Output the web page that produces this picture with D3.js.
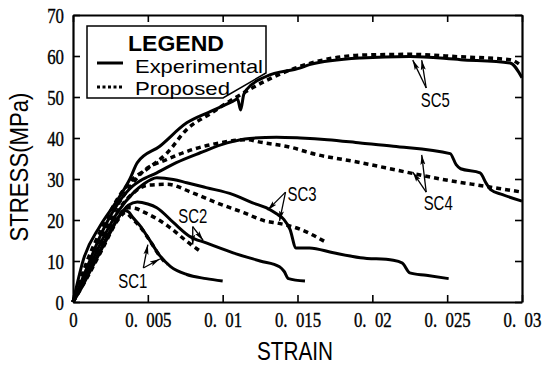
<!DOCTYPE html>
<html>
<head>
<meta charset="utf-8">
<script src="https://cdn.jsdelivr.net/npm/d3@7"></script>
<style>
  body { margin: 0; background: #fff; }
  svg { display: block; }
</style>
</head>
<body>
<script>
// strain / stress pairs
var sc1Exp = [[0,0],[0.0005,3],[0.001,6.5],[0.0015,10],[0.002,13.5],[0.0025,17],[0.003,20.3],[0.0034,22.3],[0.0037,22],[0.004,20.6],[0.0045,18.5],[0.0051,15.2],[0.0058,11.3],[0.0065,8.7],[0.0076,6.7],[0.0089,5.7],[0.01,5.1]];
var sc1Prop = [[0,0],[0.001,6.3],[0.002,13.2],[0.003,20],[0.0035,21.8],[0.004,20.2],[0.0046,17.8],[0.0052,14.6],[0.0058,11.2],[0.0063,9.2]];
var sc2Exp = [[0,0],[0.001,6.8],[0.002,14],[0.003,20.5],[0.0037,23.6],[0.0043,24.4],[0.005,23.9],[0.0056,23],[0.0067,19.4],[0.0078,16],[0.0089,14.4],[0.0107,12],[0.0125,10],[0.0138,8.6],[0.0141,7.5],[0.0144,5.7],[0.0155,5.1]];
var sc2Prop = [[0,0],[0.001,7],[0.002,14.3],[0.003,20.8],[0.0037,23],[0.0042,22.8],[0.0047,22],[0.0056,20.3],[0.0065,18.1],[0.0076,14.8],[0.0085,12.4]];
var sc3Exp = [[0,0],[0.001,7.8],[0.002,15.5],[0.003,22],[0.004,26.5],[0.0047,28.7],[0.0056,30.3],[0.0067,29.9],[0.0076,29.1],[0.0089,27.9],[0.0107,26.2],[0.012,24.2],[0.0129,23],[0.0136,21.5],[0.0141,20.1],[0.0145,17.7],[0.0149,13.2],[0.0158,13.2],[0.0174,12],[0.0192,10.8],[0.0214,10.2],[0.022,9.5],[0.0225,7.1],[0.0236,6.5],[0.0251,5.7]];
var sc3Prop = [[0,0],[0.001,8],[0.002,15.8],[0.003,22.3],[0.004,26.5],[0.005,28.5],[0.0063,28.7],[0.008,26.6],[0.0096,24.2],[0.0114,21.8],[0.0129,19.7],[0.0136,19.3],[0.0152,17.7],[0.0168,14.8]];
var sc4Exp = [[0,0],[0.001,9],[0.002,17.5],[0.003,24],[0.004,28.3],[0.0045,29.6],[0.0056,31.5],[0.0069,34],[0.0085,36.4],[0.0103,38.8],[0.0118,39.9],[0.0136,40.2],[0.0152,40],[0.017,39.6],[0.0192,38.8],[0.0214,38],[0.0252,36.2],[0.0256,33.5],[0.0259,32.5],[0.0272,31.5],[0.0276,29],[0.0279,27.4],[0.0287,26.2],[0.03,24.6]];
var sc4Prop = [[0,0],[0.001,9.2],[0.002,17.3],[0.003,23.8],[0.004,29],[0.0047,31.9],[0.0063,34.8],[0.008,37.2],[0.0098,38.8],[0.0116,39.6],[0.0125,39],[0.0147,37.6],[0.0158,36.4],[0.0192,34],[0.0225,31.5],[0.0247,29.9],[0.0276,28.2],[0.03,26.8]];
var sc5Exp = [[0,0],[0.0007,10.4],[0.0018,18.5],[0.0029,24.5],[0.0038,30],[0.0043,34],[0.0058,38],[0.0076,43.7],[0.0092,46.5],[0.0107,49],[0.011,49.5],[0.0112,46.8],[0.0114,50.5],[0.0116,51.8],[0.0129,55],[0.0152,57.1],[0.0158,57.9],[0.0192,59.5],[0.0225,59.9],[0.0259,59.1],[0.0292,58.3],[0.03,54.7]];
var sc5Prop = [[0,0],[0.001,10.5],[0.002,18.5],[0.003,25.3],[0.004,30],[0.0049,32.3],[0.0063,36.4],[0.0076,42.1],[0.0092,46],[0.0107,49.5],[0.0129,54],[0.0152,57.5],[0.0192,60.2],[0.0225,60.4],[0.0259,59.8],[0.0292,59.1],[0.03,57.5]];

var strainTicks = [0, 0.005, 0.01, 0.015, 0.02, 0.025, 0.03];
var strainTickLabels = ["0", "0.\u2002005", "0.\u200201", "0.\u2002015", "0.\u200202", "0.\u2002025", "0.\u200203"];
var stressTicks = [0, 10, 20, 30, 40, 50, 60, 70];

var curveNames = ["SC1", "SC2", "SC3", "SC4", "SC5"];
var expCurves = [sc1Exp, sc2Exp, sc3Exp, sc4Exp, sc5Exp];
var propCurves = [sc1Prop, sc2Prop, sc3Prop, sc4Prop, sc5Prop];

// label anchor (strain, stress) and arrow tips
var labelPos = [[0.0040, 3.4], [0.0080, 19.3], [0.0153, 24.6], [0.0244, 22.4], [0.0242, 47.6]];
var arrowFrom = [[0.0047, 8.3], [0.0080, 18.4], [0.0142, 26.8], [0.0236, 26.8], [0.0236, 52.2]];
var arrowTipsA = [[0.0050, 14.0], [0.0080, 14.0], [0.0130, 22.4], [0.0233, 35.9], [0.0227, 59.0]];
var arrowTipsB = [[0.0058, 10.5], [0.0087, 15.0], [0.0138, 19.8], [0.0227, 31.7], [0.0233, 59.0]];

var w = 544, h = 366;
var svg = d3.select("body").append("svg")
    .attr("width", w)
    .attr("height", h);

var x = d3.scaleLinear().domain([0, 0.03]).range([73, 522]);
var y = d3.scaleLinear().domain([0, 70]).range([302, 15]);

svg.append("defs").append("marker")
    .attr("id", "head")
    .attr("viewBox", "0 0 10 6")
    .attr("refX", 10).attr("refY", 3)
    .attr("markerWidth", 10).attr("markerHeight", 6)
    .attr("markerUnits", "userSpaceOnUse")
    .attr("orient", "auto")
    .append("path")
    .attr("d", "M0,0.5 L10,3 L0,5.5 L2,3 Z")
    .style("fill", "#000");

var line = d3.line()
    .curve(d3.curveMonotoneX)
    .x(function(d) { return x(d[0]); })
    .y(function(d) { return y(d[1]); });

// --- curves ---
svg.selectAll(".prop")
    .data(propCurves)
    .enter()
    .append("path")
    .attr("class", "prop")
    .attr("d", line)
    .style("fill", "none")
    .style("stroke", "#000")
    .style("stroke-width", 3.5)
    .style("stroke-dasharray", "5,4");

svg.selectAll(".exp")
    .data(expCurves)
    .enter()
    .append("path")
    .attr("class", "exp")
    .attr("d", line)
    .style("fill", "none")
    .style("stroke", "#000")
    .style("stroke-width", 3)
    .style("stroke-linejoin", "round");

// --- axes (inward ticks on all four sides) ---
var bottom = svg.append("g")
    .attr("transform", "translate(0," + y(0) + ")")
    .call(d3.axisBottom(x).tickValues(strainTicks)
        .tickFormat(function(d, i) { return strainTickLabels[i]; })
        .tickSizeInner(-7).tickSizeOuter(0).tickPadding(0));
bottom.selectAll("text")
    .attr("y", 25)
    .attr("dy", 0)
    .attr("x", 0)
    .attr("transform", "scale(0.8,1)");

var left = svg.append("g")
    .attr("transform", "translate(" + x(0) + ",0)")
    .call(d3.axisLeft(y).tickValues(stressTicks)
        .tickSizeInner(-7).tickSizeOuter(0).tickPadding(0));
left.selectAll("text")
    .attr("x", -9 / 0.8)
    .attr("dy", "0.36em")
    .attr("transform", "scale(0.8,1)");

svg.selectAll(".tick text")
    .style("font-family", "'Liberation Serif', serif")
    .style("font-size", "21px")
    .style("fill", "#000")
    .style("stroke", "#000")
    .style("stroke-width", 0.4);

svg.append("g")
    .attr("transform", "translate(0," + y(70) + ")")
    .call(d3.axisTop(x).tickValues(strainTicks).tickFormat("")
        .tickSizeInner(-7).tickSizeOuter(0));
svg.append("g")
    .attr("transform", "translate(" + x(0.03) + ",0)")
    .call(d3.axisRight(y).tickValues(stressTicks).tickFormat("")
        .tickSizeInner(-7).tickSizeOuter(0));

svg.selectAll(".domain").style("stroke-width", 2.2).style("stroke", "#000");
svg.selectAll(".tick line").style("stroke-width", 1.6).style("stroke", "#000");

// --- annotations ---
svg.selectAll(".sclabel")
    .data(curveNames)
    .enter()
    .append("text")
    .attr("class", "sclabel")
    .attr("x", function(d, i) { return x(labelPos[i][0]); })
    .attr("y", function(d, i) { return y(labelPos[i][1]); })
    .attr("text-anchor", "middle")
    .attr("textLength", 29)
    .attr("lengthAdjust", "spacingAndGlyphs")
    .style("font-family", "'Liberation Sans', Arial, sans-serif")
    .style("font-size", "21px")
    .text(function(d) { return d; });

[arrowTipsA, arrowTipsB].forEach(function(tips) {
    svg.selectAll(null)
        .data(tips)
        .enter()
        .append("line")
        .attr("x1", function(d, i) { return x(arrowFrom[i][0]); })
        .attr("y1", function(d, i) { return y(arrowFrom[i][1]); })
        .attr("x2", function(d) { return x(d[0]); })
        .attr("y2", function(d) { return y(d[1]); })
        .attr("marker-end", "url(#head)")
        .style("stroke", "#000")
        .style("stroke-width", 1.3);
});

// --- axis titles ---
svg.append("text")
    .attr("transform", "translate(28,167) rotate(-90)")
    .attr("text-anchor", "middle")
    .attr("textLength", 149)
    .attr("lengthAdjust", "spacingAndGlyphs")
    .style("font-family", "'Liberation Sans', Arial, sans-serif")
    .style("font-size", "25px")
    .text("STRESS(MPa)");

svg.append("text")
    .attr("x", 295)
    .attr("y", 360)
    .attr("text-anchor", "middle")
    .attr("textLength", 76)
    .attr("lengthAdjust", "spacingAndGlyphs")
    .style("font-family", "'Liberation Sans', Arial, sans-serif")
    .style("font-size", "26px")
    .text("STRAIN");

// --- legend ---
var legend = svg.append("g").attr("class", "legend");
legend.append("path")
    .attr("d", "M87,26 L266,26 L266,73 L223,98 L87,98 Z")
    .style("fill", "#fff")
    .style("stroke", "#000")
    .style("stroke-width", 1.5);
legend.append("text")
    .attr("x", 176).attr("y", 51)
    .attr("text-anchor", "middle")
    .attr("textLength", 96)
    .attr("lengthAdjust", "spacingAndGlyphs")
    .style("font-family", "'Liberation Sans', Arial, sans-serif")
    .style("font-weight", "bold")
    .style("font-size", "22px")
    .text("LEGEND");
legend.append("line")
    .attr("x1", 97).attr("x2", 123).attr("y1", 63).attr("y2", 63)
    .style("stroke", "#000").style("stroke-width", 3);
legend.append("line")
    .attr("x1", 97).attr("x2", 123).attr("y1", 87).attr("y2", 87)
    .style("stroke", "#000").style("stroke-width", 3)
    .style("stroke-dasharray", "3,2.5");
legend.append("text")
    .attr("x", 135).attr("y", 73)
    .attr("textLength", 128)
    .attr("lengthAdjust", "spacingAndGlyphs")
    .style("font-family", "'Liberation Sans', Arial, sans-serif")
    .style("font-size", "19px")
    .text("Experimental");
legend.append("text")
    .attr("x", 135).attr("y", 94.5)
    .attr("textLength", 95)
    .attr("lengthAdjust", "spacingAndGlyphs")
    .style("font-family", "'Liberation Sans', Arial, sans-serif")
    .style("font-size", "19px")
    .text("Proposed");
</script>
</body>
</html>
